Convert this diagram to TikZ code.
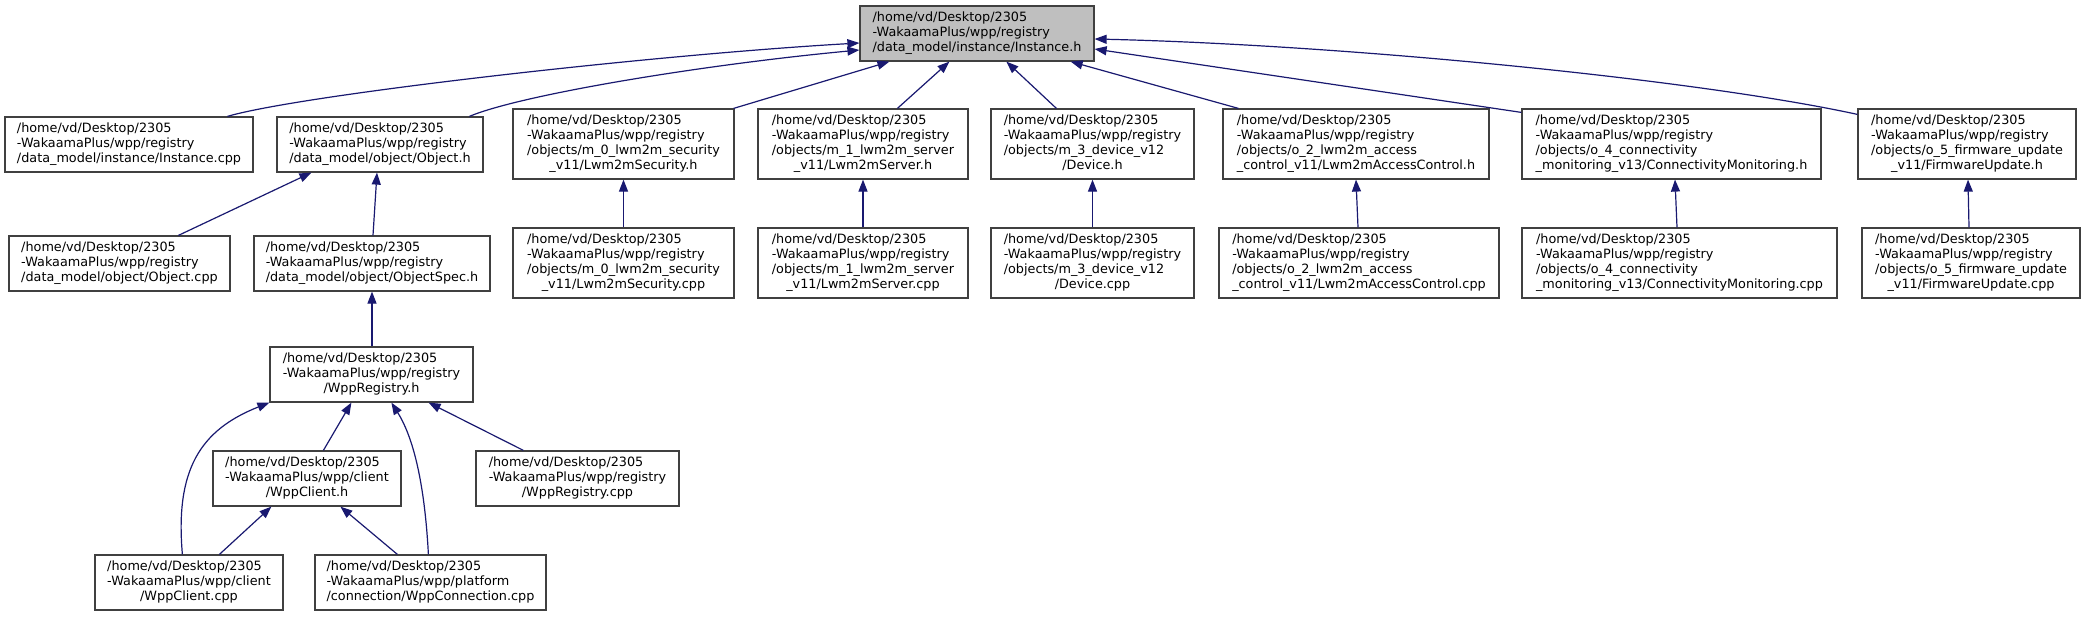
\documentclass[tikz,border=0pt]{standalone}
\usepackage{fontspec}
\setmainfont{DejaVu Sans}
\usetikzlibrary{arrows.meta,calc}
\definecolor{edgeblue}{HTML}{191970}
\definecolor{boxline}{HTML}{404040}
\definecolor{hlfill}{HTML}{BFBFBF}
\newcommand{\lab}[2]{\begin{tabular}{@{}l@{}}#1\\\multicolumn{1}{@{}c@{}}{#2}\end{tabular}}
\newcommand{\hd}{/home/vd/Desktop/2305\\-WakaamaPlus/wpp/registry}
\begin{document}
\begin{tikzpicture}[x=1pt,y=-1pt,
  box/.style={draw=boxline,line width=1.2pt,fill=white,rectangle,inner sep=0pt,
    font=\fontsize{12.8}{15}\selectfont},
  hl/.style={box,fill=hlfill},
  edge/.style={draw=edgeblue,line width=1.2pt,-{Triangle[length=12pt,width=9pt]}}]
\fill[white] (0,0) rectangle (2085,616);
\useasboundingbox (0,0) rectangle (2085,616);
% top
\node[hl,minimum width=234pt,minimum height=55pt] (inst) at (977,33.5) {\lab{\hd}{/data\_model/instance/Instance.h}};
% row 1
\node[box,minimum width=248pt,minimum height=55pt] (instcpp) at (129,144.5) {\lab{\hd}{/data\_model/instance/Instance.cpp}};
\node[box,minimum width=206pt,minimum height=55pt] (objh) at (380,144.5) {\lab{\hd}{/data\_model/object/Object.h}};
\node[box,minimum width=221pt,minimum height=70pt] (sech) at (623.5,144) {\lab{\hd\\/objects/m\_0\_lwm2m\_security}{\_v11/Lwm2mSecurity.h}};
\node[box,minimum width=210pt,minimum height=70pt] (srvh) at (863,144) {\lab{\hd\\/objects/m\_1\_lwm2m\_server}{\_v11/Lwm2mServer.h}};
\node[box,minimum width=203pt,minimum height=70pt] (devh) at (1092.5,144) {\lab{\hd\\/objects/m\_3\_device\_v12}{/Device.h}};
\node[box,minimum width=266pt,minimum height=70pt] (ach) at (1356,144) {\lab{\hd\\/objects/o\_2\_lwm2m\_access}{\_control\_v11/Lwm2mAccessControl.h}};
\node[box,minimum width=299pt,minimum height=70pt] (cmh) at (1671.5,144) {\lab{\hd\\/objects/o\_4\_connectivity}{\_monitoring\_v13/ConnectivityMonitoring.h}};
\node[box,minimum width=218pt,minimum height=70pt] (fwh) at (1967,144) {\lab{\hd\\/objects/o\_5\_firmware\_update}{\_v11/FirmwareUpdate.h}};
% row 2
\node[box,minimum width=221pt,minimum height=55pt] (objcpp) at (119.5,263.5) {\lab{\hd}{/data\_model/object/Object.cpp}};
\node[box,minimum width=236pt,minimum height=55pt] (objspec) at (372,263.5) {\lab{\hd}{/data\_model/object/ObjectSpec.h}};
\node[box,minimum width=221pt,minimum height=70pt] (seccpp) at (623.5,263) {\lab{\hd\\/objects/m\_0\_lwm2m\_security}{\_v11/Lwm2mSecurity.cpp}};
\node[box,minimum width=210pt,minimum height=70pt] (srvcpp) at (863,263) {\lab{\hd\\/objects/m\_1\_lwm2m\_server}{\_v11/Lwm2mServer.cpp}};
\node[box,minimum width=203pt,minimum height=70pt] (devcpp) at (1092.5,263) {\lab{\hd\\/objects/m\_3\_device\_v12}{/Device.cpp}};
\node[box,minimum width=280pt,minimum height=70pt] (accpp) at (1359,263) {\lab{\hd\\/objects/o\_2\_lwm2m\_access}{\_control\_v11/Lwm2mAccessControl.cpp}};
\node[box,minimum width=315pt,minimum height=70pt] (cmcpp) at (1679.5,263) {\lab{\hd\\/objects/o\_4\_connectivity}{\_monitoring\_v13/ConnectivityMonitoring.cpp}};
\node[box,minimum width=218pt,minimum height=70pt] (fwcpp) at (1971,263) {\lab{\hd\\/objects/o\_5\_firmware\_update}{\_v11/FirmwareUpdate.cpp}};
% lower part
\node[box,minimum width=203pt,minimum height=55pt] (wppreg) at (371.5,374.5) {\lab{\hd}{/WppRegistry.h}};
\node[box,minimum width=188pt,minimum height=55pt] (wppclienth) at (307,478.5) {\lab{/home/vd/Desktop/2305\\-WakaamaPlus/wpp/client}{/WppClient.h}};
\node[box,minimum width=203pt,minimum height=55pt] (wppregcpp) at (577.5,478.5) {\lab{\hd}{/WppRegistry.cpp}};
\node[box,minimum width=188pt,minimum height=55pt] (wppclientcpp) at (189,582.5) {\lab{/home/vd/Desktop/2305\\-WakaamaPlus/wpp/client}{/WppClient.cpp}};
\node[box,minimum width=231pt,minimum height=55pt] (wppconn) at (430.5,582.5) {\lab{/home/vd/Desktop/2305\\-WakaamaPlus/wpp/platform}{/connection/WppConnection.cpp}};
% edges to Instance.h
\draw[edge] ($(instcpp.north west)+(223,0)$) .. controls (300,95) and (650,55) .. ($(inst.west)+(0,9.5)$);
\draw[edge] ($(objh.north west)+(193,0)$) .. controls (520,95) and (700,65) .. ($(inst.west)+(0,16.5)$);
\draw[edge] ($(sech.north east)+(-1,0)$) -- ($(inst.south west)+(30,0)$);
\draw[edge] ($(srvh.north west)+(140,0)$) -- ($(inst.south west)+(90,0)$);
\draw[edge] ($(devh.north west)+(66,0)$) -- ($(inst.south west)+(147,0)$);
\draw[edge] ($(ach.north west)+(16,0)$) -- ($(inst.south east)+(-24,0)$);
\draw[edge] ($(cmh.north west)+(0,4)$) -- ($(inst.east)+(0,15.5)$);
\draw[edge] ($(fwh.north west)+(0,6)$) .. controls (1700,80) and (1350,45) .. ($(inst.east)+(0,5.5)$);
% cpp to h
\draw[edge] (seccpp.north) -- (sech.south);
\draw[edge] (srvcpp.north) -- (srvh.south);
\draw[edge] (devcpp.north) -- (devh.south);
\draw[edge] ($(accpp.north)+(-1,0)$) -- (ach.south);
\draw[edge] ($(cmcpp.north)+(-2.5,0)$) -- ($(cmh.south)+(3.5,0)$);
\draw[edge] ($(fwcpp.north)+(-2,0)$) -- ($(fwh.south)+(1,0)$);
% object part
\draw[edge] ($(objcpp.north west)+(170,0)$) -- ($(objh.south west)+(35,0)$);
\draw[edge] ($(objspec.north)+(1,0)$) -- ($(objh.south)+(-3,0)$);
\draw[edge] ($(wppreg.north)+(0.5,0)$) -- (objspec.south);
\draw[edge] ($(wppclientcpp.north west)+(88,0)$) .. controls (175,470) and (200,430) .. (wppreg.south west);
\draw[edge] ($(wppclienth.north west)+(111,0)$) -- ($(wppreg.south west)+(82,0)$);
\draw[edge] ($(wppconn.north west)+(114,0)$) .. controls (425,490) and (415,440) .. ($(wppreg.south west)+(122,0)$);
\draw[edge] ($(wppregcpp.north west)+(48,0)$) -- ($(wppreg.south east)+(-45,0)$);
\draw[edge] ($(wppclientcpp.north west)+(125,0)$) -- ($(wppclienth.south west)+(59,0)$);
\draw[edge] ($(wppconn.north west)+(83,0)$) -- ($(wppclienth.south west)+(128,0)$);
\end{tikzpicture}
\end{document}
